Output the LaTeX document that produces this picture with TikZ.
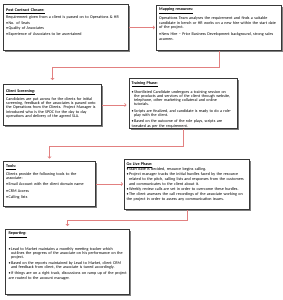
\documentclass[tikz,border=0pt]{standalone}
\usepackage{fontspec}
\setmainfont{Carlito}
\usetikzlibrary{arrows.meta,shadows}
\definecolor{connred}{RGB}{226,128,128}
\newcommand\bul{\par\hangindent=2.4pt\hangafter=1\makebox[2.4pt][l]{\textbullet}}
\newcommand\ttl[1]{\underline{\textbf{#1}}}
\newcommand\txtsetup[1]{\setlength\parindent{0pt}\setlength\parskip{#1pt}}
\begin{document}
\begin{tikzpicture}[x=1pt,y=-1pt,
  box/.style={draw=black!78,line width=1pt,fill=white,anchor=north west,inner sep=0pt,
    drop shadow={shadow xshift=1.1pt,shadow yshift=-1.1pt,fill=black!50,opacity=1}},
  txt/.style n args={3}{anchor=north west,inner sep=0pt,align=left,text width=#1pt,
    font=\fontsize{4.1}{#2}\selectfont,execute at begin node={\txtsetup{#3}}},
  conn/.style={draw=connred,line width=0.6pt,-{Straight Barb[length=1.6pt,width=3.4pt]}}]
\useasboundingbox (0,0) rectangle (283,300);
% boxes
\node[box,minimum width=125pt,minimum height=46pt] (b1) at (3,4) {};
\node[box,minimum width=125pt,minimum height=45pt] (b2) at (156,5) {};
\node[box,minimum width=98pt,minimum height=41pt] (b3) at (3,84) {};
\node[box,minimum width=108pt,minimum height=50pt] (b4) at (129,78) {};
\node[box,minimum width=92pt,minimum height=45pt] (b5) at (3,161) {};
\node[box,minimum width=125pt,minimum height=50pt] (b6) at (124,159) {};
\node[box,minimum width=124pt,minimum height=65pt] (b7) at (5,229) {};
% texts
\node[txt={122}{4.8}{0.9}] (t1) at ([shift={(3,4.5)}]b1.north west) {\ttl{Post Contract Closure:}\par
Requirement given from a client is passed on to Operations \& HR
\bul No. of Seats
\bul Quality of Associates
\bul Experience of Associates to be ascertained};
\node[txt={122}{4.7}{2}] (t2) at ([shift={(3,2.8)}]b2.north west) {\ttl{Mapping resources:}\par
Operations Team analyses the requirement and finds a suitable\newline
candidate in bench or HR works on a new hire within the start date\newline
of the project.
\bul New Hire -- Prior Business Development background, strong sales\newline acumen.};
\node[txt={95}{4.2}{1.6}] (t3) at ([shift={(3,5.3)}]b3.north west) {\ttl{Client Screening:}\par
Candidates are put across for the clients for initial\newline
screening, feedback of the associates is passed onto\newline
the Operations from the Clients. Project Manager is\newline
introduced who is the SPOC for the day to day\newline
operations and delivery of the agreed SLA.};
\node[txt={105}{4.2}{2.2}] (t4) at ([shift={(2.5,3.5)}]b4.north west) {\ttl{Training Phase:}\par
\bul Shortlisted Candidate undergoes a training session on\newline
the products and services of the client through website,\newline
telephone, other marketing collateral and online\newline tutorials.
\bul Scripts are finalized, and candidate is ready to do a role-\newline play with the client.
\bul Based on the outcome of the role plays, scripts are\newline tweaked as per the requirement.};
\node[txt={89}{4.6}{1.6}] (t5) at ([shift={(3,3.5)}]b5.north west) {\ttl{Tools:}\par
Clients provide the following tools to the\newline associate:
\bul Email Account with the client domain name
\bul CRM Access
\bul Calling lists};
\node[txt={122}{5}{0}] (t6) at ([shift={(2.5,3.5)}]b6.north west) {\ttl{Go Live Phase:}\par
\bul Start date is decided, resource begins calling.
\bul Project manager tracks the initial hurdles faced by the resource\newline
related to the pitch, calling lists and responses from the customers\newline
and communicates to the client about it.
\bul Weekly review calls are set in order to overcome these hurdles.
\bul The client assesses the call recordings of the associate working on\newline
the project in order to assess any communication issues.};
\node[txt={120}{4.1}{2}] (t7) at ([shift={(3.5,2.8)}]b7.north west) {\ttl{Reporting:}\par\vspace{7pt}
\bul Lead to Market maintains a monthly meeting tracker which\newline
outlines the progress of the associate on his performance on the\newline project.
\bul Based on the reports maintained by Lead to Market, client CRM\newline
and feedback from client, the associate is tuned accordingly.
\bul If things are on a right track, discussions on ramp up of the project\newline
are routed to the account manager.};
% connectors
\draw[conn,shorten >=1pt] (b1.east) -- (b1.east -| b2.west);
\draw[conn,shorten >=4pt] (b2.south) -- ++(0,16) -| (b3.north);
\draw[conn,shorten >=2.5pt] (b3.east) -- (b3.east -| b4.west);
\draw[conn,shorten >=2.5pt] (b4.south) -- ++(0,17) -| (b5.north);
\draw[conn,shorten >=1pt] (b5.east) -- (b5.east -| b6.west);
\draw[conn,shorten >=3pt] (b6.south) -- ++(0,10) -| (b7.north);
\end{tikzpicture}
\end{document}
